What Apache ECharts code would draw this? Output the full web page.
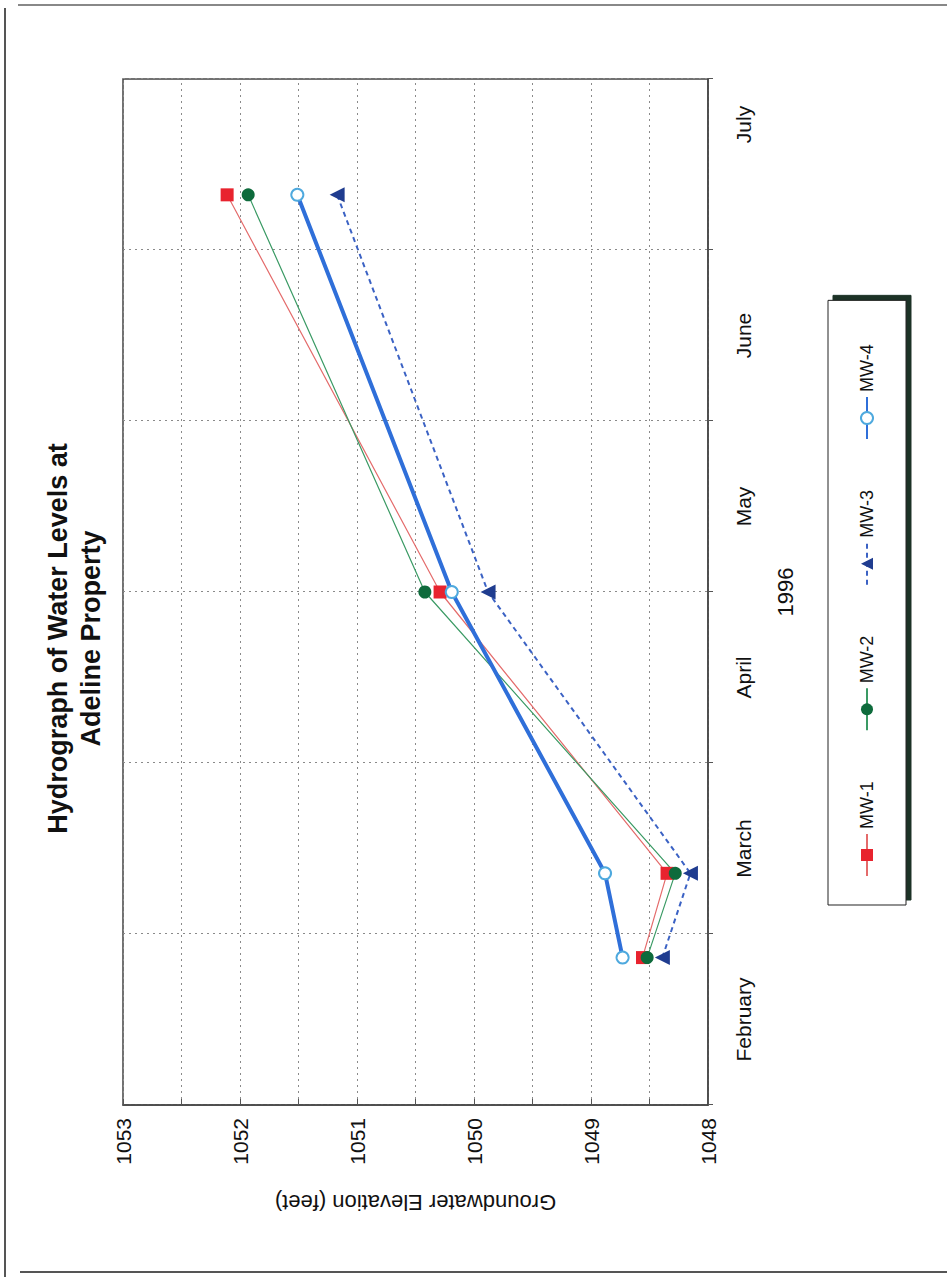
<!DOCTYPE html>
<html>
<head>
<meta charset="utf-8">
<script src="https://cdn.jsdelivr.net/npm/echarts@6/dist/echarts.min.js"></script>
<style>
  html, body { margin: 0; padding: 0; background: #fff; width: 947px; height: 1277px; overflow: hidden; }
  #chart { position: absolute; left: 0; top: 0; width: 1277px; height: 947px;
           transform-origin: 0 0; transform: translate(0, 1277px) rotate(-90deg); }
</style>
</head>
<body>
<div id="chart"></div>
<script>
// ---- data ----
const months = ['February', 'March', 'April', 'May', 'June', 'July'];
const sampleDates = ['1996-02-26', '1996-03-12', '1996-05-01', '1996-07-11'];
const seriesNames = ['MW-1', 'MW-2', 'MW-3', 'MW-4'];
const mw1 = [1048.56, 1048.35, 1050.29, 1052.11];
const mw2 = [1048.52, 1048.28, 1050.42, 1051.93];
const mw3 = [1048.39, 1048.15, 1049.88, 1051.17];
const mw4 = [1048.73, 1048.88, 1050.19, 1051.51];
const elevMin = 1048, elevMax = 1053;
const titleText = 'Hydrograph of Water Levels at\nAdeline Property';
const yName = 'Groundwater Elevation (feet)';
const xName = '1996';

// position of a date on the month axis (February = band 0)
function monthPos(d) {
  const [y, m, day] = d.split('-').map(Number);
  const dim = new Date(y, m, 0).getDate();
  return (m - 2) + (day - 1) / dim;
}
function pts(vals) { return vals.map((v, i) => [monthPos(sampleDates[i]), v]); }

const FONT = '"Liberation Sans", Arial, sans-serif';
const chart = echarts.init(document.getElementById('chart'), null, { renderer: 'svg' });

chart.setOption({
  animation: false,
  backgroundColor: '#fff',
  textStyle: { fontFamily: FONT },
  title: {
    text: titleText,
    left: 'center',
    top: 36,
    textStyle: { fontFamily: FONT, fontSize: 27, fontWeight: 'bold', color: '#111', lineHeight: 33 }
  },
  grid: { left: 172, right: 79, top: 123, bottom: 239, show: true, borderColor: '#444', borderWidth: 1.5, backgroundColor: '#fff' },
  legend: {
    data: seriesNames,
    left: 372, top: 828,
    orient: 'horizontal',
    padding: [30, 44, 30, 28],
    itemGap: 50,
    itemWidth: 42, itemHeight: 15,
    backgroundColor: '#fff',
    borderColor: '#222', borderWidth: 1,
    shadowColor: '#1d3326', shadowOffsetX: 5, shadowOffsetY: 5, shadowBlur: 0,
    textStyle: { fontFamily: FONT, fontSize: 18, color: '#111' }
  },
  xAxis: [
    {
      type: 'category',
      data: months,
      boundaryGap: true,
      position: 'bottom',
      name: xName,
      nameLocation: 'middle',
      nameGap: 66,
      nameTextStyle: { fontFamily: FONT, fontSize: 22, color: '#111' },
      axisLine: { show: true, lineStyle: { color: '#444', width: 1.5 } },
      axisTick: { show: true, length: 5, lineStyle: { color: '#555' } },
      axisLabel: {
        margin: 25, fontFamily: FONT, fontSize: 21, color: '#111',
        formatter: v => (v === months[months.length - 1] ? '{last|' + v + '}' : v),
        rich: { last: { fontFamily: FONT, fontSize: 21, color: '#111', padding: [0, 0, 0, 80] } }
      },
      splitLine: { show: true, lineStyle: { color: '#8a8a8a', type: [2, 4], width: 1 } }
    },
    {
      type: 'value',
      min: 0, max: months.length,
      show: false
    }
  ],
  yAxis: {
    type: 'value',
    min: elevMin, max: elevMax, interval: 0.5,
    name: yName,
    nameLocation: 'middle',
    nameRotate: 90,
    nameGap: 86,
    nameTextStyle: { fontFamily: FONT, fontSize: 22, color: '#111' },
    axisLine: { show: true, lineStyle: { color: '#444', width: 1.5 } },
    axisTick: { show: true, inside: true, length: 6, lineStyle: { color: '#555' } },
    axisLabel: {
      margin: 13, fontFamily: FONT, fontSize: 21, color: '#111',
      formatter: v => (Number.isInteger(v) ? String(v) : '')
    },
    splitLine: { show: true, lineStyle: { color: '#8a8a8a', type: [2, 4], width: 1 } }
  },
  graphic: [
    { type: 'line', shape: { x1: 0, y1: 5, x2: 1269, y2: 5 }, style: { stroke: '#555', lineWidth: 2 } },
    { type: 'line', shape: { x1: 1272, y1: 18, x2: 1272, y2: 947 }, style: { stroke: '#888', lineWidth: 2 } },
    { type: 'line', shape: { x1: 5, y1: 20, x2: 5, y2: 947 }, style: { stroke: '#555', lineWidth: 2 } }
  ],
  series: [
    {
      name: 'MW-1', type: 'line', xAxisIndex: 1, data: pts(mw1),
      symbol: 'rect', symbolSize: 13,
      itemStyle: { color: '#e8232e' },
      lineStyle: { color: '#e46b6b', width: 1.2 }
    },
    {
      name: 'MW-2', type: 'line', xAxisIndex: 1, data: pts(mw2),
      symbol: 'circle', symbolSize: 13,
      itemStyle: { color: '#0e6b3c' },
      lineStyle: { color: '#3a9a64', width: 1.2 }
    },
    {
      name: 'MW-3', type: 'line', xAxisIndex: 1, data: pts(mw3),
      symbol: 'triangle', symbolSize: 15,
      itemStyle: { color: '#1f3c8f' },
      lineStyle: { color: '#3b62c4', width: 2, type: [5, 4] }
    },
    {
      name: 'MW-4', type: 'line', xAxisIndex: 1, data: pts(mw4),
      symbol: 'emptyCircle', symbolSize: 12,
      itemStyle: { color: '#4ea9de', borderWidth: 1.5 },
      lineStyle: { color: '#2f6fd9', width: 4 }
    }
  ]
});
</script>
</body>
</html>
